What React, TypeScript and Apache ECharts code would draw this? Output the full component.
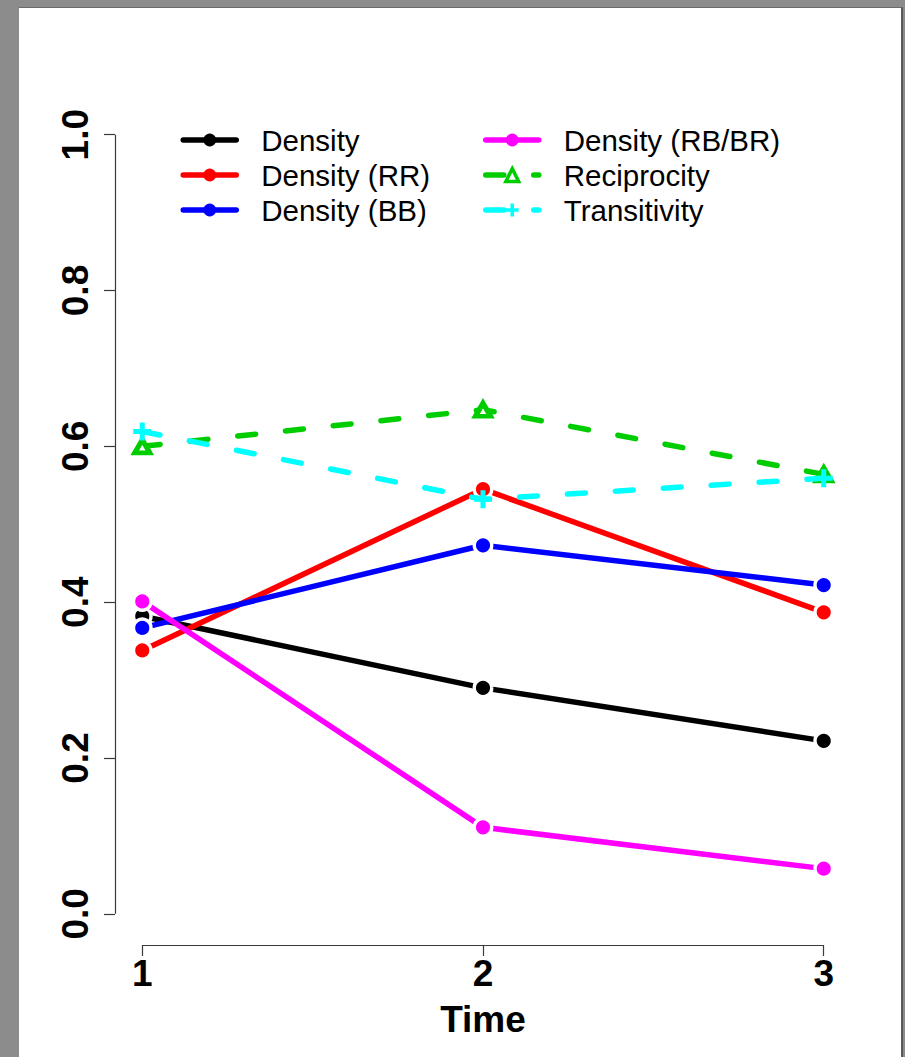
import React, { useEffect, useRef } from "react";
import * as echarts from "echarts";

const TIME = [1, 2, 3];
const DENSITY = [0.382, 0.29, 0.222];
const DENSITY_RR = [0.338, 0.545, 0.387];
const DENSITY_BB = [0.367, 0.473, 0.422];
const DENSITY_RBBR = [0.401, 0.111, 0.058];
const RECIPROCITY = [0.6, 0.647, 0.564];
const TRANSITIVITY = [0.619, 0.532, 0.559];

const X_TICKS = [1, 2, 3];
const Y_TICKS = [0, 0.2, 0.4, 0.6, 0.8, 1.0];
const X_MIN = 0.92;
const X_MAX = 3.08;
const Y_MIN = -0.04;
const Y_MAX = 1.04;

const FONT = "'Liberation Sans', Arial, Helvetica, sans-serif";
const PLUS = "path://M36,0H64V36H100V64H64V100H36V64H0V36H36Z";

type SeriesDef = {
  name: string;
  values: number[];
  color: string;
  kind: "circle" | "triangle" | "plus";
  dashed: boolean;
};

const SERIES: SeriesDef[] = [
  { name: "Density", values: DENSITY, color: "#000000", kind: "circle", dashed: false },
  { name: "Density (RR)", values: DENSITY_RR, color: "#ff0000", kind: "circle", dashed: false },
  { name: "Density (BB)", values: DENSITY_BB, color: "#0000ff", kind: "circle", dashed: false },
  { name: "Density (RB/BR)", values: DENSITY_RBBR, color: "#ff00ff", kind: "circle", dashed: false },
  { name: "Reciprocity", values: RECIPROCITY, color: "#00cd00", kind: "triangle", dashed: true },
  { name: "Transitivity", values: TRANSITIVITY, color: "#00ffff", kind: "plus", dashed: true },
];

const LINE_W = 5.5;
const DASH = [18, 30];

function buildSeries(): any[] {
  return SERIES.map((s, i) => {
    const base: any = {
      name: s.name,
      type: "line",
      data: TIME.map((t, k) => [t, s.values[k]]),
      showSymbol: true,
      showAllSymbol: true,
      clip: false,
      silent: true,
      emphasis: { disabled: true },
      lineStyle: {
        color: s.color,
        width: LINE_W,
        type: s.dashed ? DASH : "solid",
        cap: "round",
        join: "round",
      },
      z: 2 + i,
    };
    if (s.kind === "circle") {
      base.symbol = "circle";
      base.symbolSize = 17.5;
      base.itemStyle = { color: s.color, borderColor: "#ffffff", borderWidth: 3.4 };
    } else if (s.kind === "triangle") {
      base.symbol = "triangle";
      base.symbolSize = [15, 13];
      base.itemStyle = { color: "#ffffff", borderColor: s.color, borderWidth: 5 };
    } else {
      base.symbol = PLUS;
      base.symbolSize = 18;
      base.itemStyle = { color: s.color, borderWidth: 0 };
    }
    if (i === 0) {
      base.markLine = {
        silent: true,
        symbol: "none",
        animation: false,
        label: { show: false },
        emphasis: { disabled: true },
        lineStyle: { color: "#3a3a3a", width: 1.2, type: "solid" },
        data: [
          [
            { coord: [X_TICKS[0], Y_MIN] },
            { coord: [X_TICKS[X_TICKS.length - 1], Y_MIN] },
          ],
          [
            { coord: [X_MIN, Y_TICKS[0]] },
            { coord: [X_MIN, Y_TICKS[Y_TICKS.length - 1]] },
          ],
        ],
      };
    }
    return base;
  });
}

function legendItem(s: SeriesDef): any {
  const item: any = {
    name: s.name,
    lineStyle: {
      color: s.color,
      width: LINE_W,
      type: s.dashed ? DASH : "solid",
      cap: "round",
    },
  };
  if (s.kind === "circle") {
    item.itemStyle = { color: s.color, borderWidth: 0 };
  } else if (s.kind === "triangle") {
    item.itemStyle = { color: "#ffffff", borderColor: s.color, borderWidth: 3.5 };
  } else {
    item.itemStyle = { color: s.color, borderWidth: 0 };
  }
  return item;
}

function legendCol(items: SeriesDef[], left: number): any {
  return {
    show: true,
    orient: "vertical",
    left,
    top: 117.5,
    itemWidth: 53,
    itemHeight: 16,
    itemGap: 0,
    selectedMode: false,
    data: items.map(legendItem),
    textStyle: {
      fontFamily: FONT,
      fontSize: 29.5,
      color: "#000",
      lineHeight: 35,
      padding: [0, 0, 0, 20],
    },
  };
}

export default function App() {
  const ref = useRef<HTMLDivElement>(null);

  useEffect(() => {
    if (!ref.current) return;
    const chart = echarts.init(ref.current, null, { renderer: "svg" });
    const axisLabelStyle = {
      fontFamily: FONT,
      fontSize: 37,
      fontWeight: "bold",
      color: "#000",
    };
    chart.setOption({
      animation: false,
      backgroundColor: "transparent",
      grid: {
        left: 115,
        right: 54,
        top: 103.5,
        bottom: 112,
        containLabel: false,
        outerBoundsMode: "none",
      },
      legend: [legendCol(SERIES.slice(0, 3), 175.5), legendCol(SERIES.slice(3), 478)],
      xAxis: {
        type: "value",
        min: X_MIN,
        max: X_MAX,
        splitLine: { show: false },
        axisLine: { show: false, onZero: false },
        axisTick: {
          show: true,
          customValues: X_TICKS,
          length: 11,
          lineStyle: { color: "#3a3a3a", width: 1.2 },
        },
        axisLabel: {
          ...axisLabelStyle,
          customValues: X_TICKS,
          margin: 10,
          formatter: (v: number) => String(v),
        },
        name: "Time",
        nameLocation: "middle",
        nameGap: 56,
        nameMoveOverlap: false,
        nameTextStyle: { ...axisLabelStyle },
      },
      yAxis: {
        type: "value",
        min: Y_MIN,
        max: Y_MAX,
        splitLine: { show: false },
        axisLine: { show: false, onZero: false },
        axisTick: {
          show: true,
          customValues: Y_TICKS,
          length: 11,
          lineStyle: { color: "#3a3a3a", width: 1.2 },
        },
        axisLabel: {
          ...axisLabelStyle,
          customValues: Y_TICKS,
          rotate: 90,
          margin: 21,
          formatter: (v: number) => v.toFixed(1),
        },
      },
      series: buildSeries(),
    });
    return () => chart.dispose();
  }, []);

  return (
    <div
      style={{
        position: "absolute",
        left: 0,
        top: 0,
        width: 905,
        height: 1057,
        background: "#8c8c8c",
        overflow: "hidden",
      }}
    >
      <div
        style={{
          position: "absolute",
          left: 19,
          top: 7,
          width: 884,
          height: 1050,
          background: "#ffffff",
          borderRight: "2px solid #5a5a5a",
          borderTop: "1px solid #6a6a6a",
          boxSizing: "border-box",
        }}
      />
      <div
        ref={ref}
        style={{ position: "absolute", left: 0, top: 0, width: 905, height: 1057 }}
      />
    </div>
  );
}
